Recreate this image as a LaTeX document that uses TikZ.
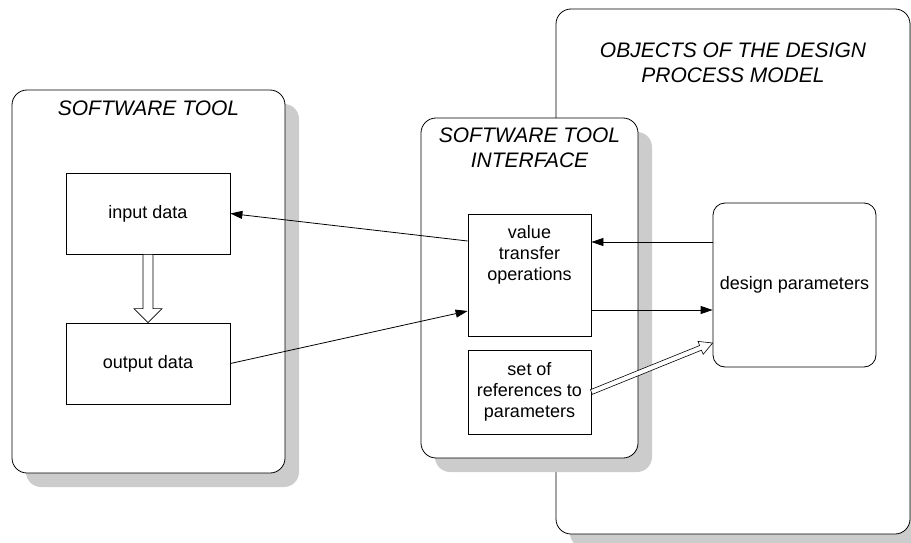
\documentclass[tikz,border=0pt]{standalone}
\usepackage{fontspec}
\setmainfont{Liberation Sans}
\usetikzlibrary{arrows.meta}
\usetikzlibrary{shadows}
\usetikzlibrary{calc}

\begin{document}
\begin{tikzpicture}[x = 1pt, y = -1pt, font = \fontsize{18}{21}\selectfont, line width = 0.8pt]
	\tikzstyle{groupStyle} = [shape = rectangle, rounded corners = 15pt, draw, fill = white, drop shadow = {shadow xshift = 14pt, shadow yshift = -14pt, fill = gray!40, opacity = 1}]
	\tikzstyle{titleStyle} = [font = \fontsize{21}{25}\selectfont\itshape, align = center, inner sep = 0pt]
	\tikzstyle{boxStyle} = [shape = rectangle, draw, fill = white, align = center, inner sep = 2pt]
	\tikzstyle{flowStyle} = [-{Triangle[length = 12pt, width = 8pt]}]
	\tikzstyle{hollowStyle} = [draw, fill = white, line width = 0.6pt, line join = miter]
	\useasboundingbox (0, 0) rectangle (911, 543);
	% software tool
	\node[groupStyle, minimum width = 273pt, minimum height = 383pt] (tool) at (148.5, 281.5) {};
	\node[titleStyle, anchor = base] (toolTitle) at (148.5, 116) {SOFTWARE TOOL};
	\node[boxStyle, minimum width = 164pt, minimum height = 81pt] (input) at (148, 213.5) {input data};
	\node[boxStyle, minimum width = 164pt, minimum height = 81pt] (output) at (148, 363.5) {output data};
	% objects of the model
	\node[groupStyle, minimum width = 354pt, minimum height = 525pt] (objects) at (733, 271.5) {};
	\node[titleStyle, anchor = north] (objectsTitle) at (733, 42.5) {OBJECTS OF THE DESIGN\\PROCESS MODEL};
	\node[boxStyle, rounded corners = 12pt, minimum width = 163pt, minimum height = 164pt] (params) at (794.5, 285) {design parameters};
	% interface
	\node[groupStyle, minimum width = 217pt, minimum height = 340pt] (iface) at (529.5, 288) {};
	\node[titleStyle, anchor = north] (ifaceTitle) at (529.5, 127.5) {SOFTWARE TOOL\\INTERFACE};
	\node[boxStyle, minimum width = 123pt, minimum height = 122pt] (vto) at (529.5, 275) {};
	\node[anchor = north, align = center, inner sep = 0pt] (vtoText) at ([yshift = -11pt]vto.north) {value\\transfer\\operations};
	\node[boxStyle, minimum width = 123pt, minimum height = 84pt] (refs) at (529.5, 392) {set of\\references to\\parameters};
	% data flow
	\draw[flowStyle] ([yshift = 34pt]vto.west) -- (input.east);
	\draw[flowStyle] (output.east) -- ([yshift = -36pt]vto.west);
	\draw[flowStyle] ([yshift = 43pt]params.west) -- ([yshift = 33pt]vto.east);
	\draw[flowStyle] ([yshift = -35pt]vto.east) -- ([yshift = -25pt]params.west);
	% hollow arrows
	\draw[hollowStyle] ($(input.south) + (-5, 0)$) -- ($(output.north) + (-5, -14)$) -- ($(output.north) + (-14, -14)$) -- (output.north) -- ($(output.north) + (14, -14)$) -- ($(output.north) + (5, -14)$) -- ($(input.south) + (5, 0)$) -- cycle;
	\coordinate (refTip) at ([yshift = -58pt]params.west);
	\coordinate (refBase) at ($(refTip)!13pt!(refs.east)$);
	\draw[hollowStyle] ($(refs.east)!2.5pt!90:(refTip)$) -- ($(refBase)!2.5pt!90:(refTip)$) -- ($(refBase)!7pt!90:(refTip)$) -- (refTip) -- ($(refBase)!7pt!-90:(refTip)$) -- ($(refBase)!2.5pt!-90:(refTip)$) -- ($(refs.east)!2.5pt!-90:(refTip)$) -- cycle;
\end{tikzpicture}
\end{document}
